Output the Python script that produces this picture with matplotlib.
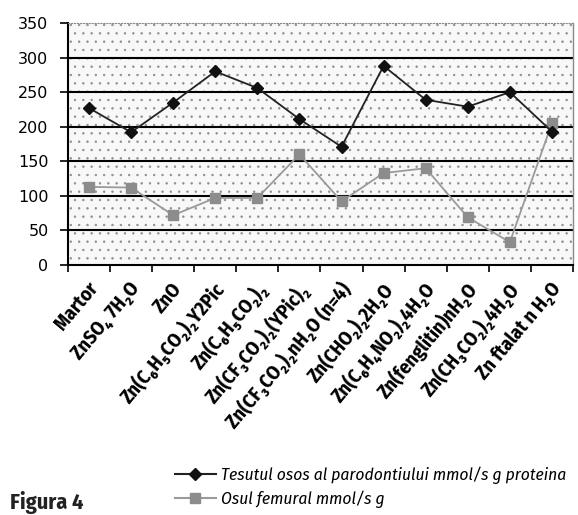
import matplotlib
matplotlib.use("Agg")
import matplotlib.pyplot as plt
from matplotlib.lines import Line2D

categories = ["Martor", "ZnSO₄ 7H₂O", "ZnO", "Zn(C₆H₅CO₂)₂Y2Pic", "Zn(C₆H₅CO₂)₂",
              "Zn(CF₃CO₂)₂(YPic)₂", "Zn(CF₃CO₂)₂nH₂O (n=4)", "Zn(CHO₂)₂2H₂O",
              "Zn(C₆H₄NO₂)₂4H₂O", "Zn(fenglitin)nH₂O", "Zn(CH₃CO₂)₂4H₂O", "Zn ftalat n H₂O"]
parodontiu = [227, 192, 235, 280, 256, 211, 171, 288, 239, 229, 250, 193]
femural = [113, 112, 72, 97, 97, 160, 92, 133, 140, 69, 33, 205]
series_names = ["Tesutul osos al parodontiului mmol/s g proteina", "Osul femural mmol/s g"]
yticks = [0, 50, 100, 150, 200, 250, 300, 350]

cond = ["Fira Sans Condensed", "DejaVu Sans"]

plt.rcParams["hatch.linewidth"] = 0.5
fig = plt.figure(figsize=(5.78, 5.15), dpi=100)
ax = fig.add_axes([0.1176, 0.4854, 0.9913 - 0.1176, 0.9553 - 0.4854])
ax.set_facecolor("#f8f8f8")
x = list(range(len(categories)))
ax.set_xlim(-0.5, len(categories) - 0.5)
ax.set_ylim(0, 350)

ax.fill_between([-0.5, len(categories) - 0.5], 0, 350, facecolor="none",
                edgecolor="#8e8e8e", hatch="..", linewidth=0, zorder=0)

for v in yticks[1:-1]:
    ax.axhline(v, color="black", lw=1.5, zorder=1)

ax.plot(x, femural, color="#9a9a9a", lw=1.3, marker="s", ms=6.5,
        mfc="#8c8c8c", mec="#8c8c8c", zorder=3)
ax.plot(x, parodontiu, color="#222222", lw=1.3, marker="D", ms=6,
        mfc="#111111", mec="#111111", zorder=4)

ax.set_yticks(yticks)
ax.set_yticklabels([str(v) for v in yticks], fontsize=11.5, family=["DejaVu Sans"])
ax.set_xticks([i + 0.5 for i in range(-1, len(categories))])
ax.set_xticklabels([])
ax.tick_params(axis="x", direction="out", length=5, width=1.2, color="black")
ax.tick_params(axis="y", direction="out", length=6, width=1.2, color="black", pad=8)

for i, lab in enumerate(categories):
    ax.text(i - 0.05, -20, lab, rotation=50, ha="right", va="top",
            rotation_mode="anchor", fontsize=14.2, fontweight="bold",
            family=cond, transform=ax.transData, clip_on=False)

for side in ["left", "bottom"]:
    ax.spines[side].set_color("black")
    ax.spines[side].set_linewidth(1.5)
ax.spines["top"].set_color("#8a8a8a")
ax.spines["top"].set_linestyle(":")
ax.spines["right"].set_color("#8a8a8a")
ax.spines["right"].set_linewidth(1)

handles = [Line2D([], [], color="#222222", lw=1.5, marker="D", ms=6, mfc="#111111", mec="#111111"),
           Line2D([], [], color="#9a9a9a", lw=1.5, marker="s", ms=6.5, mfc="#8c8c8c", mec="#8c8c8c")]
leg = fig.legend(handles, series_names, loc="upper left", bbox_to_anchor=(0.302, 0.094),
                 frameon=False, handlelength=2.4, handletextpad=0.3, labelspacing=0.35,
                 borderaxespad=0, borderpad=0,
                 prop={"family": cond, "style": "italic", "size": 12.5})

fig.text(0.017, 0.002, "Figura 4", fontsize=16, fontweight="bold", family=cond,
         color="#222222", ha="left", va="bottom")

fig.savefig("out.png", dpi=100)
